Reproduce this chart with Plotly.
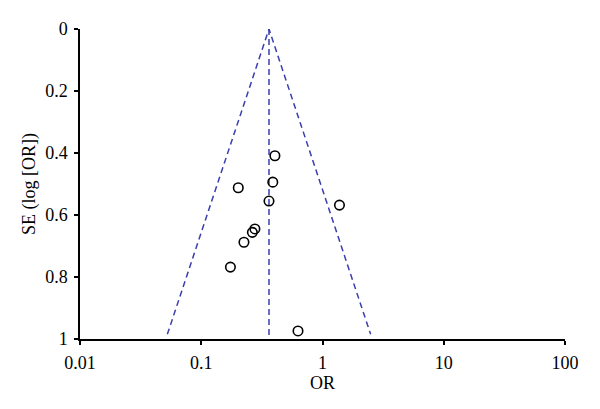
import plotly.graph_objects as go
import math

# Study data (odds ratio, standard error of log OR)
study_or = [0.405, 0.389, 0.202, 0.362, 1.38, 0.277, 0.264, 0.225, 0.174, 0.628]
study_se = [0.409, 0.494, 0.512, 0.555, 0.568, 0.645, 0.656, 0.688, 0.768, 0.974]

pooled_or = 0.362
se_line_max = 0.985
z = 1.96

x_ticks = [0.01, 0.1, 1, 10, 100]
x_tick_labels = ["0.01", "0.1", "1", "10", "100"]
y_ticks = [0, 0.2, 0.4, 0.6, 0.8, 1]
y_tick_labels = ["0", "0.2", "0.4", "0.6", "0.8", "1"]

lo = math.exp(math.log(pooled_or) - z * se_line_max)
hi = math.exp(math.log(pooled_or) + z * se_line_max)

line_color = "#3b3eae"
dash = "6px,4px"

fig = go.Figure()
fig.add_trace(go.Scatter(x=[lo, pooled_or, hi], y=[se_line_max, 0, se_line_max],
                         mode="lines", line=dict(color=line_color, width=1.5, dash=dash),
                         hoverinfo="skip", showlegend=False))
fig.add_trace(go.Scatter(x=[pooled_or, pooled_or], y=[0, 1],
                         mode="lines", line=dict(color=line_color, width=1.5, dash=dash),
                         hoverinfo="skip", showlegend=False))
fig.add_trace(go.Scatter(x=study_or, y=study_se, mode="markers",
                         marker=dict(symbol="circle-open", size=9.5, color="black",
                                     line=dict(width=1.6, color="black")),
                         showlegend=False))

font_family = "Liberation Serif"
fs = 18
fig.update_layout(
    width=600, height=409,
    margin=dict(l=72, r=43, t=21, b=78),
    paper_bgcolor="white", plot_bgcolor="white",
    font=dict(family=font_family, size=fs, color="black"),
    xaxis=dict(type="log", range=[-2, 2], tickvals=x_ticks, ticktext=x_tick_labels,
               showgrid=False, zeroline=False, showline=True, linecolor="black", linewidth=1.5,
               ticks="outside", ticklen=4, tickwidth=1.5, tickcolor="black",
               ticklabelstandoff=3,
               title=dict(text="OR", standoff=3, font=dict(size=fs)),
               tickfont=dict(size=fs)),
    yaxis=dict(range=[1, 0], tickvals=y_ticks, ticktext=y_tick_labels,
               showgrid=False, zeroline=False, showline=True, linecolor="black", linewidth=1.5,
               ticks="outside", ticklen=4, tickwidth=1.5, tickcolor="black",
               ticklabelstandoff=3,
               title=dict(text="SE (log [OR])", standoff=5, font=dict(size=fs)),
               tickfont=dict(size=fs)),
)

fig.write_html("out.html")
